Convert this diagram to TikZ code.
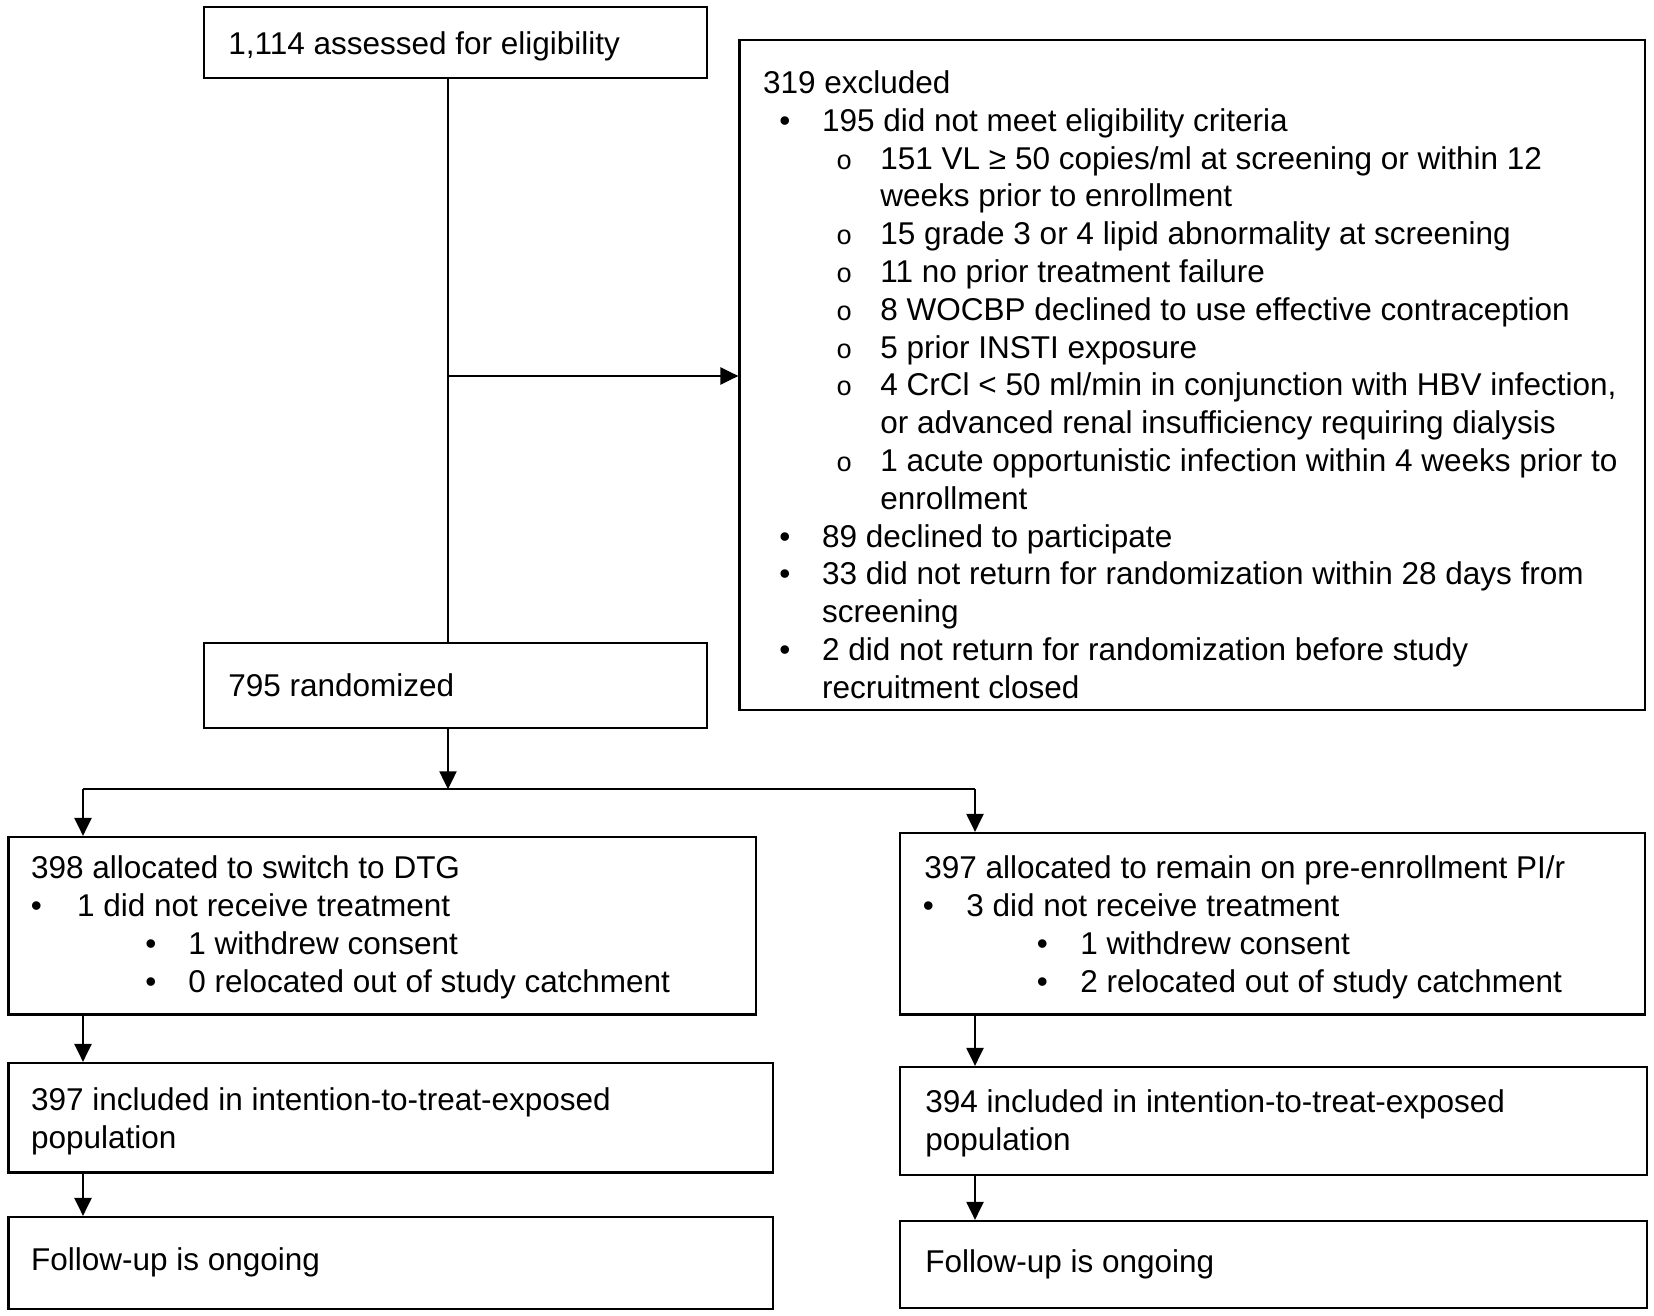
\documentclass[tikz,border=0pt]{standalone}
\usepackage{fontspec}
\setmainfont{Liberation Sans}
\newfontfamily\monofam{Liberation Mono}
\usetikzlibrary{arrows.meta,fit}
\begin{document}
\begin{tikzpicture}[x=0.5pt,y=-0.5pt,
  box/.style={draw, line width=1.1pt, inner sep=0pt},
  txt/.style={anchor=base west, inner sep=0pt, font=\fontsize{15.75}{19}\selectfont},
  bul/.style={anchor=base, inner sep=0pt, font=\fontsize{15.75}{19}\selectfont},
  sub/.style={anchor=base, inner sep=0pt, font=\fontsize{13.5}{16}\selectfont\monofam},
  conn/.style={line width=1.1pt},
  arr/.style={line width=1.1pt, -{Triangle[length=9pt,width=8.5pt]}}]
\useasboundingbox (0,0) rectangle (1654,1316);

% boxes
\node[box, fit={(204,7.4) (707,78)}] (b1) {};
\node[box, fit={(739.5,40) (1645,710)}] (ex) {};
\node[box, fit={(204,643) (707,728.3)}] (b2) {};
\node[box, fit={(8.4,837) (756,1014.5)}] (l1) {};
\node[box, fit={(900,833) (1645,1014.5)}] (r1) {};
\node[box, fit={(8.4,1063) (773,1172.5)}] (l2) {};
\node[box, fit={(900,1067) (1647.3,1175)}] (r2) {};
\node[box, fit={(8.4,1217) (773,1309)}] (l3) {};
\node[box, fit={(900,1221) (1647.3,1308.3)}] (r3) {};

% texts
\node[txt] (t1) at (228,54.3) {1,114 assessed for eligibility};
\node[txt] (t2) at (228,696.7) {795 randomized};

\node[txt] (e0) at (762.6,93.5) {319 excluded};
\node[bul] (e1b) at (785,131.3) {\textbullet};
\node[txt] (e1) at (821.7,131.3) {195 did not meet eligibility criteria};
\node[sub] (e2b) at (844.3,169.1) {o};
\node[txt] (e2) at (880,169.1) {151 VL ≥ 50 copies/ml at screening or within 12};
\node[txt] (e3) at (880,206.9) {weeks prior to enrollment};
\node[sub] (e4b) at (844.3,244.7) {o};
\node[txt] (e4) at (880,244.7) {15 grade 3 or 4 lipid abnormality at screening};
\node[sub] (e5b) at (844.3,282.5) {o};
\node[txt] (e5) at (880,282.5) {11 no prior treatment failure};
\node[sub] (e6b) at (844.3,320.3) {o};
\node[txt] (e6) at (880,320.3) {8 WOCBP declined to use effective contraception};
\node[sub] (e7b) at (844.3,358.1) {o};
\node[txt] (e7) at (880,358.1) {5 prior INSTI exposure};
\node[sub] (e8b) at (844.3,395.9) {o};
\node[txt] (e8) at (880,395.9) {4 CrCl < 50 ml/min in conjunction with HBV infection,};
\node[txt] (e9) at (880,433.7) {or advanced renal insufficiency requiring dialysis};
\node[sub] (e10b) at (844.3,471.5) {o};
\node[txt] (e10) at (880,471.5) {1 acute opportunistic infection within 4 weeks prior to};
\node[txt] (e11) at (880,509.3) {enrollment};
\node[bul] (e12b) at (785,547.1) {\textbullet};
\node[txt] (e12) at (821.7,547.1) {89 declined to participate};
\node[bul] (e13b) at (785,584.9) {\textbullet};
\node[txt] (e13) at (821.7,584.9) {33 did not return for randomization within 28 days from};
\node[txt] (e14) at (821.7,622.7) {screening};
\node[bul] (e15b) at (785,660.5) {\textbullet};
\node[txt] (e15) at (821.7,660.5) {2 did not return for randomization before study};
\node[txt] (e16) at (821.7,698.3) {recruitment closed};

% left arm
\node[txt] (la0) at (30.7,878.5) {398 allocated to switch to DTG};
\node[bul] (la1b) at (36.5,916.5) {\textbullet};
\node[txt] (la1) at (76.8,916.5) {1 did not receive treatment};
\node[bul] (la2b) at (151,954.5) {\textbullet};
\node[txt] (la2) at (188,954.5) {1 withdrew consent};
\node[bul] (la3b) at (151,992.5) {\textbullet};
\node[txt] (la3) at (188,992.5) {0 relocated out of study catchment};
\node[txt] (lb0) at (30.7,1110) {397 included in intention-to-treat-exposed};
\node[txt] (lb1) at (30.7,1148) {population};
\node[txt] (lc0) at (30.7,1270.5) {Follow-up is ongoing};

% right arm
\node[txt] (ra0) at (924,878.5) {397 allocated to remain on pre-enrollment PI/r};
\node[bul] (ra1b) at (928.3,916.5) {\textbullet};
\node[txt] (ra1) at (966,916.5) {3 did not receive treatment};
\node[bul] (ra2b) at (1042.3,954.5) {\textbullet};
\node[txt] (ra2) at (1080,954.5) {1 withdrew consent};
\node[bul] (ra3b) at (1042.3,992.5) {\textbullet};
\node[txt] (ra3) at (1080,992.5) {2 relocated out of study catchment};
\node[txt] (rb0) at (925,1112) {394 included in intention-to-treat-exposed};
\node[txt] (rb1) at (925,1150) {population};
\node[txt] (rc0) at (925,1272) {Follow-up is ongoing};

% connectors
\coordinate (j1) at (448,376);
\coordinate (j2) at (448,789.3);
\coordinate (jl) at (83,789.3);
\coordinate (jr) at (975,789.3);
\draw[conn] (b1.south -| j1) -- (b2.north -| j1);
\draw[arr] (j1) -- (ex.west |- j1);
\draw[arr] (b2.south -| j2) -- (j2);
\draw[conn] (jl) -- (jr);
\draw[arr] (jl) -- (l1.north -| jl);
\draw[arr] (jr) -- (r1.north -| jr);
\draw[arr] (l1.south -| jl) -- (l2.north -| jl);
\draw[arr] (r1.south -| jr) -- (r2.north -| jr);
\draw[arr] (l2.south -| jl) -- (l3.north -| jl);
\draw[arr] (r2.south -| jr) -- (r3.north -| jr);
\end{tikzpicture}
\end{document}
